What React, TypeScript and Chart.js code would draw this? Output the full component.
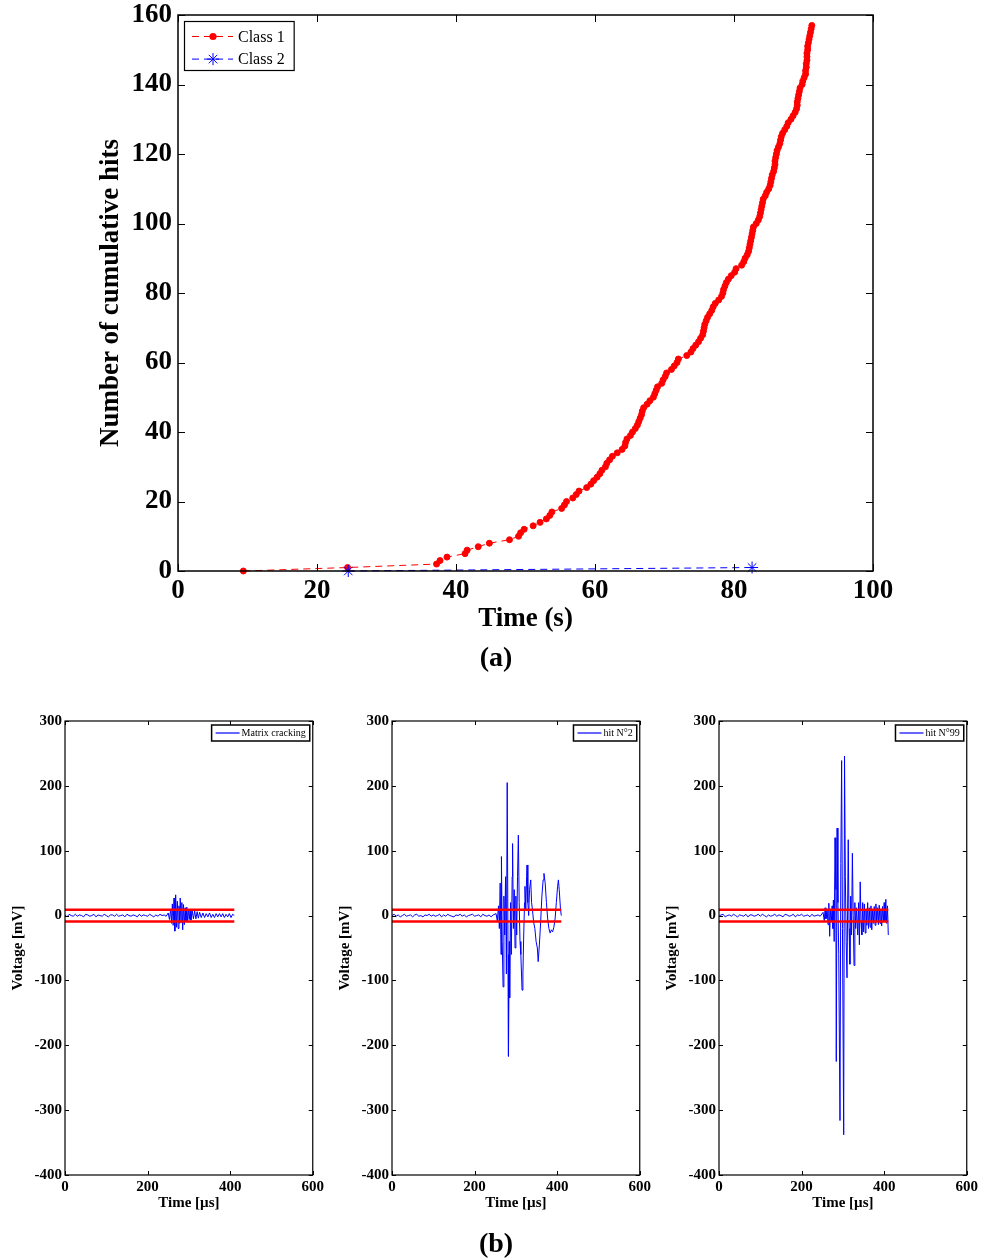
import React, { useEffect, useRef } from "react";
import { Chart, registerables } from "chart.js";

Chart.register(...registerables);

const SERIF = "'Liberation Serif', 'Times New Roman', serif";

// ---------- (a) cumulative hits ----------
const class1Time = [
  9.4, 24.4, 37.2, 37.7, 38.7, 41.3, 41.6, 43.2, 44.8, 47.7,
  49.0, 49.3, 49.8, 51.1, 52.1, 53.0, 53.5, 53.8, 55.2, 55.6,
  55.9, 56.8, 57.3, 57.7, 58.8, 59.4, 59.8, 60.3, 60.7, 61.0,
  61.5, 61.7, 62.1, 62.5, 63.2, 63.9, 64.3, 64.4, 64.6, 65.1,
  65.4, 65.8, 66.1, 66.3, 66.5, 66.7, 66.8, 67.0, 67.5, 67.9,
  68.4, 68.6, 68.8, 69.0, 69.6, 69.8, 70.1, 70.3, 71.0, 71.4,
  71.8, 72.0, 73.2, 73.8, 74.1, 74.5, 74.9, 75.2, 75.5, 75.6,
  75.7, 75.8, 76.0, 76.2, 76.5, 76.8, 77.0, 77.3, 77.8, 78.2,
  78.4, 78.5, 78.7, 78.9, 79.2, 79.6, 80.1, 80.3, 81.1, 81.4,
  81.6, 81.9, 82.1, 82.2, 82.3, 82.4, 82.5, 82.6, 82.7, 82.8,
  83.2, 83.5, 83.7, 83.8, 83.9, 84.0, 84.1, 84.2, 84.5, 84.7,
  85.0, 85.2, 85.3, 85.4, 85.5, 85.7, 85.8, 85.9, 85.9, 86.0,
  86.1, 86.2, 86.4, 86.6, 86.7, 86.8, 87.0, 87.3, 87.6, 87.8,
  88.2, 88.5, 88.8, 89.0, 89.1, 89.1, 89.2, 89.3, 89.4, 89.5,
  89.8, 89.9, 90.1, 90.3, 90.3, 90.4, 90.4, 90.5, 90.5, 90.5,
  90.6, 90.6, 90.7, 90.8, 90.9, 91.0, 91.1, 91.2,
];
const class1Hits = [
  0, 1, 2, 3, 4, 5, 6, 7, 8, 9,
  10, 11, 12, 13, 14, 15, 16, 17, 18, 19,
  20, 21, 22, 23, 24, 25, 26, 27, 28, 29,
  30, 31, 32, 33, 34, 35, 36, 37, 38, 39,
  40, 41, 42, 43, 44, 45, 46, 47, 48, 49,
  50, 51, 52, 53, 54, 55, 56, 57, 58, 59,
  60, 61, 62, 63, 64, 65, 66, 67, 68, 69,
  70, 71, 72, 73, 74, 75, 76, 77, 78, 79,
  80, 81, 82, 83, 84, 85, 86, 87, 88, 89,
  90, 91, 92, 93, 94, 95, 96, 97, 98, 99,
  100, 101, 102, 103, 104, 105, 106, 107, 108, 109,
  110, 111, 112, 113, 114, 115, 116, 117, 118, 119,
  120, 121, 122, 123, 124, 125, 126, 127, 128, 129,
  130, 131, 132, 133, 134, 135, 136, 137, 138, 139,
  140, 141, 142, 143, 144, 145, 146, 147, 148, 149,
  150, 151, 152, 153, 154, 155, 156, 157,
];
const class2Time = [24.5, 82.6];
const class2Hits = [0, 1];
const timeTicksA = [0, 20, 40, 60, 80, 100];
const hitsTicks = [0, 20, 40, 60, 80, 100, 120, 140, 160];

// ---------- (b) waveforms ----------
const preTriggerTime = [
  0, 5, 10, 15, 20, 25, 30, 35, 40, 45,
  50, 55, 60, 65, 70, 75, 80, 85, 90, 95,
  100, 105, 110, 115, 120, 125, 130, 135, 140, 145,
  150, 155, 160, 165, 170, 175, 180, 185, 190, 195,
  200, 205, 210, 215, 220, 225, 230, 235, 240, 245,
];

const hit1PreVolt = [
  1, -2, 2, 0, -1, 2, -1, 1, 0, -2,
  2, 1, -1, 0, 2, -2, 1, 0, -1, 2,
  0, -2, 1, 1, -1, 2, -1, 0, 1, -2,
  2, 0, -1, 1, 0, -2, 2, -1, 1, 0,
  -1, 2, 0, -2, 1, -1, 2, 0, 1, -1,
];
const hit1BurstTime = [
  250, 253, 256, 258, 260, 262, 264, 266, 268, 270,
  272, 274, 276, 278, 279, 281, 283, 285, 287, 289,
  291, 293, 295, 297, 299, 301, 303, 305, 308, 311,
  314, 317, 320, 323, 326, 330, 334, 338, 342, 346,
  350, 354, 358, 362, 366, 370, 374, 378, 382, 386,
  390, 394, 398, 402, 406, 410,
];
const hit1BurstVolt = [
  4, -6, 10, -12, 18, -15, 27, -24, 32, -18,
  22, -20, 15, -12, 27, -10, 20, -22, 17, -14,
  12, -9, 13, -8, 10, -6, 9, -7, 8, -5,
  7, -5, 6, -4, 5, -3, 4, -3, 3, -2,
  4, -3, 2, -3, 3, -2, 3, -2, 3, -3,
  2, -2, 3, -3, 2, 0,
];

const hit2PreVolt = [
  0, 2, -1, 1, -2, 0, 2, -1, 0, 1,
  -2, 1, 2, -1, 0, -2, 1, 0, 2, -1,
  1, -1, 0, 2, -2, 1, -1, 2, 0, -1,
  -2, 1, 0, 2, -1, 1, -2, 0, 1, 2,
  -1, 0, 1, -2, 2, 0, -1, 1, -2, 1,
];
const hit2BurstTime = [
  252, 255, 258, 260, 262, 264, 265, 267, 269, 271,
  273, 275, 277, 279, 281, 282, 284, 285, 287, 289,
  291, 292, 294, 296, 298, 300, 302, 304, 306, 308,
  310, 312, 315, 317, 319, 321, 322, 324, 326, 327,
  329, 331, 333, 336, 338, 340, 343, 346, 349, 352,
  354, 357, 360, 363, 366, 368, 371, 374, 377, 380,
  383, 386, 389, 392, 395, 398, 401, 403, 405, 408,
  410,
];
const hit2BurstVolt = [
  3, -8, 15, -20, 50, -60, 91, -40, -110, 30,
  -30, 60, -90, 205, -60, -217, -40, -127, 20, -60,
  60, 111, -20, 40, -50, 30, -30, 60, 124, 20,
  -40, -60, -115, -90, -30, 20, 45, 10, 60, 78,
  20, 0, 40, 55, 20, 10, -10, -20, -40, -50,
  -71, -44, -10, 30, 55, 65, 50, 20, -5, -20,
  -27, -22, -25, -18, -5, 20, 45, 55, 40, 10,
  0,
];

const hit3PreVolt = [
  -1, 1, 2, -2, 0, 1, -1, 2, 0, -2,
  1, 0, -1, 2, -2, 1, 1, -1, 0, 2,
  -1, 2, 0, -2, 1, -1, 0, 2, -1, 1,
  0, -2, 2, 1, -1, 0, 2, -2, 1, 0,
  2, -1, 0, 1, -2, 2, -1, 0, 1, -1,
];
const hit3BurstTime = [
  252, 255, 257, 259, 262, 264, 266, 268, 270, 272,
  274, 276, 277, 279, 281, 283, 284, 286, 288, 290,
  293, 295, 297, 299, 302, 304, 306, 308, 310, 313,
  315, 317, 319, 321, 323, 325, 327, 329, 331, 333,
  336, 338, 340, 342, 344, 346, 348, 350, 352, 354,
  356, 358, 360, 362, 364, 366, 368, 370, 372, 374,
  376, 378, 380, 382, 384, 386, 388, 390, 392, 394,
  396, 398, 400, 402, 404, 406, 408, 410,
];
const hit3BurstVolt = [
  5, -8, 12, -5, 8, -14, 19, -32, 10, -10,
  15, -20, 24, -40, 120, 40, -225, 135, 20, -60,
  -316, 80, 239, -20, -338, 246, 60, -40, -96, 117,
  -20, -75, 30, -30, 96, 0, -77, 20, -20, 12,
  -30, 20, -45, 52, -10, -30, 20, -25, 18, -27,
  10, -15, 20, -20, 12, -18, 15, -22, 10, -12,
  14, -15, 18, -10, 12, -14, 16, -12, 10, -16,
  14, -10, 20, -8, 25, -12, 15, -30,
];

const thresholdTime = [0, 410];
const thresholdUpper = [9, 9];
const thresholdLower = [-9, -9];
const voltTicks = [-400, -300, -200, -100, 0, 100, 200, 300];
const usTicks = [0, 200, 400, 600];
const waveLabels = ["Matrix cracking", "hit N°2", "hit N°99"];

// ---------- helpers ----------
function pairs(xs: number[], ys: number[]) {
  return xs.map((x, i) => ({ x, y: ys[i] }));
}

function fixedTicks(values: number[]) {
  return (scale: any) => {
    scale.ticks = values.map((v) => ({ value: v }));
  };
}

function framePlugin(len: number, lw: number) {
  return {
    id: "matlabFrame",
    afterDatasetsDraw(chart: any) {
      const { ctx, chartArea: a, scales } = chart;
      ctx.save();
      ctx.strokeStyle = "#000";
      ctx.lineWidth = lw;
      ctx.strokeRect(a.left, a.top, a.right - a.left, a.bottom - a.top);
      ctx.lineWidth = 1;
      ctx.beginPath();
      scales.x.ticks.forEach((t: any) => {
        const px = Math.round(scales.x.getPixelForValue(t.value)) + 0.5;
        ctx.moveTo(px, a.bottom);
        ctx.lineTo(px, a.bottom - len);
        ctx.moveTo(px, a.top);
        ctx.lineTo(px, a.top + len);
      });
      scales.y.ticks.forEach((t: any) => {
        const py = Math.round(scales.y.getPixelForValue(t.value)) + 0.5;
        ctx.moveTo(a.left, py);
        ctx.lineTo(a.left + len, py);
        ctx.moveTo(a.right, py);
        ctx.lineTo(a.right - len, py);
      });
      ctx.stroke();
      ctx.restore();
    },
  };
}

function drawMarker(ctx: CanvasRenderingContext2D, style: string, x: number, y: number, r: number, color: string) {
  ctx.save();
  ctx.setLineDash([]);
  if (style === "star") {
    ctx.strokeStyle = color;
    ctx.lineWidth = 1;
    ctx.beginPath();
    for (let k = 0; k < 4; k++) {
      const ang = (k * Math.PI) / 4;
      ctx.moveTo(x - r * Math.cos(ang), y - r * Math.sin(ang));
      ctx.lineTo(x + r * Math.cos(ang), y + r * Math.sin(ang));
    }
    ctx.stroke();
  } else {
    ctx.fillStyle = color;
    ctx.beginPath();
    ctx.arc(x, y, r, 0, Math.PI * 2);
    ctx.fill();
  }
  ctx.restore();
}

const mainLegend = {
  id: "mainLegend",
  afterDraw(chart: any) {
    const { ctx, chartArea: a } = chart;
    const items = chart.data.datasets.slice().reverse();
    ctx.save();
    ctx.font = `16px ${SERIF}`;
    const left = a.left + 6;
    const top = a.top + 6;
    const tw = Math.max(...items.map((d: any) => ctx.measureText(d.label).width));
    const w = 54 + tw + 9;
    const h = 49;
    ctx.fillStyle = "#fff";
    ctx.fillRect(left, top, w, h);
    ctx.strokeStyle = "#000";
    ctx.lineWidth = 1.2;
    ctx.strokeRect(left + 0.5, top + 0.5, w, h);
    items.forEach((d: any, i: number) => {
      const y = top + 15.5 + i * 22.6;
      ctx.strokeStyle = d.borderColor;
      ctx.lineWidth = 1;
      ctx.setLineDash(d.borderDash || []);
      ctx.beginPath();
      ctx.moveTo(left + 8, y);
      ctx.lineTo(left + 49, y);
      ctx.stroke();
      ctx.setLineDash([]);
      drawMarker(ctx, d.pointStyle, left + 29, y, d.pointStyle === "star" ? 6 : 3.6, d.borderColor);
      ctx.fillStyle = "#000";
      ctx.textBaseline = "middle";
      ctx.textAlign = "left";
      ctx.fillText(d.label, left + 54, y + 1);
    });
    ctx.restore();
  },
};

const smallLegend = {
  id: "smallLegend",
  afterDraw(chart: any) {
    const ds = chart.data.datasets.find((d: any) => d.label);
    if (!ds) return;
    const { ctx, chartArea: a } = chart;
    ctx.save();
    ctx.font = `10px ${SERIF}`;
    const tw = ctx.measureText(ds.label).width;
    const h = 16;
    const w = 30 + tw + 4;
    const right = a.right - 3;
    const left = right - w;
    const top = a.top + 4;
    ctx.fillStyle = "#fff";
    ctx.fillRect(left, top, w, h);
    ctx.strokeStyle = "#000";
    ctx.lineWidth = 1.5;
    ctx.strokeRect(left, top, w, h);
    ctx.strokeStyle = ds.borderColor;
    ctx.lineWidth = 1.2;
    ctx.beginPath();
    ctx.moveTo(left + 4, top + h / 2);
    ctx.lineTo(left + 28, top + h / 2);
    ctx.stroke();
    ctx.fillStyle = "#000";
    ctx.textBaseline = "middle";
    ctx.textAlign = "left";
    ctx.fillText(ds.label, left + 30, top + h / 2 + 0.5);
    ctx.restore();
  },
};

function mainConfig(): any {
  const bigFont = { family: SERIF, size: 27, weight: "bold" as const };
  return {
    type: "scatter",
    data: {
      datasets: [
        {
          label: "Class 2",
          data: pairs(class2Time, class2Hits),
          showLine: true,
          borderColor: "#0000ff",
          borderWidth: 1,
          borderDash: [7, 5],
          pointStyle: "star",
          pointRadius: 6,
          pointBorderColor: "#0000ff",
          pointBackgroundColor: "#0000ff",
          pointBorderWidth: 1,
          clip: false,
        },
        {
          label: "Class 1",
          data: pairs(class1Time, class1Hits),
          showLine: true,
          borderColor: "#ff0000",
          borderWidth: 1,
          borderDash: [7, 5],
          pointStyle: "circle",
          pointRadius: 3,
          pointBorderColor: "#ff0000",
          pointBackgroundColor: "#ff0000",
          pointBorderWidth: 1,
          clip: false,
        },
      ],
    },
    options: {
      animation: false,
      responsive: false,
      events: [],
      layout: { padding: { left: 0, top: 15, right: 109, bottom: 45 } },
      plugins: { legend: { display: false }, tooltip: { enabled: false } },
      scales: {
        x: {
          type: "linear",
          min: 0,
          max: 100,
          afterBuildTicks: fixedTicks(timeTicksA),
          afterFit: (s: any) => {
            s.height = 64;
          },
          grid: { display: false, drawTicks: false },
          border: { display: false },
          ticks: { color: "#000", font: bigFont, padding: 4, maxRotation: 0, autoSkip: false },
          title: { display: true, text: "Time (s)", color: "#000", font: bigFont, padding: { top: 0, bottom: 0 } },
        },
        y: {
          type: "linear",
          min: 0,
          max: 160,
          afterBuildTicks: fixedTicks(hitsTicks),
          afterFit: (s: any) => {
            s.width = 178;
            s.paddingTop = 0;
            s.paddingBottom = 0;
          },
          grid: { display: false, drawTicks: false },
          border: { display: false },
          ticks: { color: "#000", font: bigFont, padding: 6, autoSkip: false },
          title: {
            display: true,
            text: "Number of cumulative hits",
            color: "#000",
            font: bigFont,
            padding: { top: 95, bottom: 0 },
          },
        },
      },
    },
    plugins: [framePlugin(7, 1.5), mainLegend],
  };
}

function waveConfig(label: string, t: number[], v: number[]): any {
  const font = { family: SERIF, size: 15, weight: "bold" as const };
  return {
    type: "scatter",
    data: {
      datasets: [
        {
          data: pairs(thresholdTime, thresholdUpper),
          showLine: true,
          borderColor: "#ff0000",
          borderWidth: 2.5,
          pointRadius: 0,
        },
        {
          data: pairs(thresholdTime, thresholdLower),
          showLine: true,
          borderColor: "#ff0000",
          borderWidth: 2.5,
          pointRadius: 0,
        },
        {
          label,
          data: pairs(t, v),
          showLine: true,
          borderColor: "#0000ff",
          borderWidth: 1,
          pointRadius: 0,
        },
      ],
    },
    options: {
      animation: false,
      responsive: false,
      events: [],
      layout: { padding: { left: 0, top: 21, right: 14, bottom: 15 } },
      plugins: { legend: { display: false }, tooltip: { enabled: false } },
      scales: {
        x: {
          type: "linear",
          min: 0,
          max: 600,
          afterBuildTicks: fixedTicks(usTicks),
          afterFit: (s: any) => {
            s.height = 40;
          },
          grid: { display: false, drawTicks: false },
          border: { display: false },
          ticks: { color: "#000", font, padding: 3, maxRotation: 0, autoSkip: false },
          title: { display: true, text: "Time [µs]", color: "#000", font, padding: { top: 0, bottom: 3 } },
        },
        y: {
          type: "linear",
          min: -400,
          max: 300,
          afterBuildTicks: fixedTicks(voltTicks),
          afterFit: (s: any) => {
            s.width = 65;
            s.paddingTop = 0;
            s.paddingBottom = 0;
          },
          grid: { display: false, drawTicks: false },
          border: { display: false },
          ticks: { color: "#000", font, padding: 3, autoSkip: false },
          title: { display: true, text: "Voltage [mV]", color: "#000", font, padding: { top: 9, bottom: 0 } },
        },
      },
    },
    plugins: [framePlugin(4, 1.2), smallLegend],
  };
}

export default function App() {
  const aRef = useRef<HTMLCanvasElement>(null);
  const b1Ref = useRef<HTMLCanvasElement>(null);
  const b2Ref = useRef<HTMLCanvasElement>(null);
  const b3Ref = useRef<HTMLCanvasElement>(null);

  useEffect(() => {
    const charts: Chart[] = [];
    if (aRef.current) charts.push(new Chart(aRef.current, mainConfig()));
    if (b1Ref.current)
      charts.push(
        new Chart(b1Ref.current, waveConfig(waveLabels[0], preTriggerTime.concat(hit1BurstTime), hit1PreVolt.concat(hit1BurstVolt)))
      );
    if (b2Ref.current)
      charts.push(
        new Chart(b2Ref.current, waveConfig(waveLabels[1], preTriggerTime.concat(hit2BurstTime), hit2PreVolt.concat(hit2BurstVolt)))
      );
    if (b3Ref.current)
      charts.push(
        new Chart(b3Ref.current, waveConfig(waveLabels[2], preTriggerTime.concat(hit3BurstTime), hit3PreVolt.concat(hit3BurstVolt)))
      );
    return () => charts.forEach((c) => c.destroy());
  }, []);

  const caption: React.CSSProperties = {
    position: "absolute",
    left: 0,
    width: 992,
    textAlign: "center",
    fontFamily: SERIF,
    fontWeight: "bold",
    fontSize: 28,
    lineHeight: "36px",
    color: "#000",
  };

  return (
    <div style={{ position: "absolute", left: 0, top: 0, width: 982, height: 1258, background: "#fff" }}>
      <canvas ref={aRef} width={982} height={680} style={{ position: "absolute", left: 0, top: 0 }} />
      <div style={{ ...caption, top: 639 }}>(a)</div>
      <canvas ref={b1Ref} width={327} height={530} style={{ position: "absolute", left: 0, top: 700 }} />
      <canvas ref={b2Ref} width={327} height={530} style={{ position: "absolute", left: 327, top: 700 }} />
      <canvas ref={b3Ref} width={327} height={530} style={{ position: "absolute", left: 654, top: 700 }} />
      <div style={{ ...caption, top: 1225 }}>(b)</div>
    </div>
  );
}
